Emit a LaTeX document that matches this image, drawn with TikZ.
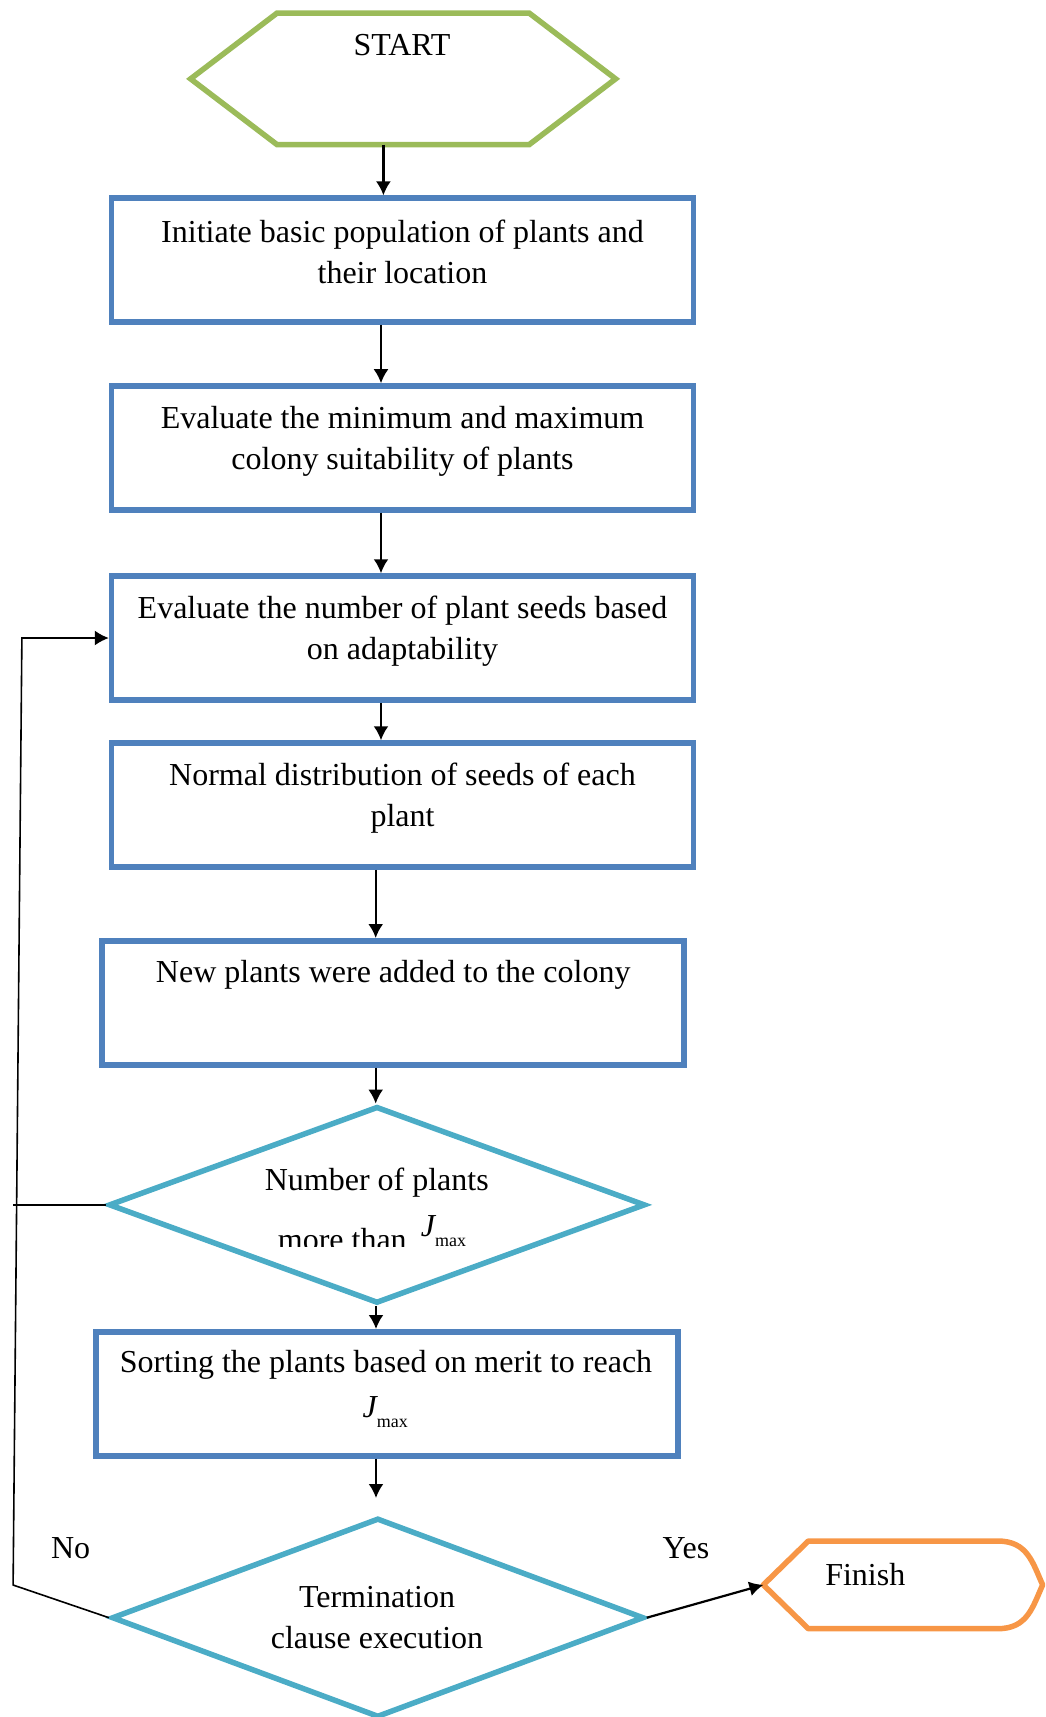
\documentclass[tikz,border=0pt]{standalone}
\usepackage{fontspec}
\setmainfont{Liberation Serif}
\usetikzlibrary{calc,shapes.geometric,arrows.meta}
\definecolor{cgreen}{HTML}{9BBB59}
\definecolor{cblue}{HTML}{4F81BD}
\definecolor{cteal}{HTML}{4BACC6}
\definecolor{corange}{HTML}{F79646}
\newcommand{\jmaxtxt}{{\itshape J}\raisebox{-10pt}{\fontsize{18}{18}\selectfont max}}
\begin{document}
\begin{tikzpicture}[x=1pt,y=-1pt,
  box/.style={draw=cblue, line width=5.5pt, minimum width=582pt, minimum height=124pt, inner sep=0pt},
  dia/.style={diamond, draw=cteal, line width=5.5pt, inner sep=0pt},
  frame/.style={inner sep=0pt, outer sep=0pt},
  txt/.style={font=\fontsize{32}{41.6}\selectfont, align=center, inner sep=0pt},
  tip/.style={-{Latex[length=14pt,width=15pt]}},
  arr/.style={tip, line width=2.2pt},
  lnk/.style={line width=1.6pt}]
\useasboundingbox (0,0) rectangle (1046,1717);

% START hexagon
\node[frame, minimum width=425pt, minimum height=131.5pt] (start) at (403.1,78.85) {};
\draw[cgreen, line width=5.5pt] (start.west) -- ($(start.north west)+(86.4,0)$) -- ($(start.north east)+(-86.4,0)$) -- (start.east) -- ($(start.south east)+(-86.4,0)$) -- ($(start.south west)+(86.4,0)$) -- cycle;
\node[txt] (tstart) at (402,45) {START};

% boxes
\node[box] (b1) at (402.5,260.15) {};
\node[txt] (t1) at (402.5,252) {Initiate basic population of plants and\\their location};
\node[box] (b2) at (402.5,447.95) {};
\node[txt] (t2) at (402.5,441.5) {Evaluate the minimum and maximum\\colony suitability of plants};
\node[box] (b3) at (402.5,638) {};
\node[txt] (t3) at (402.5,631) {Evaluate the number of plant seeds based\\on adaptability};
\node[box] (b4) at (402.5,805) {};
\node[txt] (t4) at (402.5,798) {Normal distribution of seeds of each\\plant};
\node[box] (b5) at (393.2,1002.75) {};
\node[txt] (t5) at (393.2,975) {New plants were added to the colony};

% decision 1
\node[dia, minimum width=536.7pt, minimum height=197pt] (d1) at (377,1204.85) {};
\node[txt] (t6) at (376.8,1183) {Number of plants};
\begin{scope}
  \clip (200,1200) rectangle (420,1246.5);
  \node[txt, anchor=base] (t7) at (342.3,1250) {more than};
\end{scope}
\node[txt, anchor=base west] (t8) at (420.6,1236) {\jmaxtxt};

% box 6
\node[box] (b6) at (387.2,1393.75) {};
\node[txt] (t9) at (386,1365) {Sorting the plants based on merit to reach};
\node[txt, anchor=base west] (t10) at (362.5,1417) {\jmaxtxt};

% decision 2
\node[dia, minimum width=532.3pt, minimum height=199.4pt] (d2) at (377.85,1617.7) {};
\node[txt] (t11) at (377,1617.7) {Termination\\clause execution};

% Finish
\node[frame, minimum width=279.3pt, minimum height=87.7pt] (fin) at (903,1584.85) {};
\draw[corange, line width=5.5pt, line join=round] (fin.west) -- ($(fin.north west)+(45,0)$) -- ($(fin.north east)+(-45,0)$)
  .. controls ($(fin.north east)+(-15,0)$) and ($(fin.east)+(-10,-22)$) .. (fin.east)
  .. controls ($(fin.east)+(-10,22)$) and ($(fin.south east)+(-15,0)$) .. ($(fin.south east)+(-45,0)$)
  -- ($(fin.south west)+(45,0)$) -- cycle;
\node[txt] (tfin) at (865.3,1575) {Finish};

% labels
\node[txt] (lno) at (70.6,1548.5) {No};
\node[txt] (lyes) at (686,1548.5) {Yes};

% connectors
\coordinate (xa) at (383.4,0);
\coordinate (xb) at (381,0);
\coordinate (xc) at (375.7,0);
\coordinate (xd) at (376,0);
\coordinate (e6) at (376,1498);
\draw[arr] (start.south -| xa) -- (b1.north -| xa);
\draw[arr] (b1.south -| xb) -- (b2.north -| xb);
\draw[arr] (b2.south -| xb) -- (b3.north -| xb);
\draw[arr] (b3.south -| xb) -- (b4.north -| xb);
\draw[arr] (b4.south -| xc) -- (b5.north -| xc);
\draw[arr] (b5.south -| xc) -- (d1.north -| xc);
\draw[arr] (d1.south -| xd) -- (b6.north -| xd);
\draw[arr] (b6.south -| xd) -- (e6);
\draw[arr] (d2.east) -- (fin.west);

\coordinate (lb) at (13.1,1585);
\coordinate (lt) at (21.9,638);
\coordinate (l1) at (13,1204.85);
\draw[lnk, tip] (d2.west) -- (lb) -- (lt) -- (b3.west);
\draw[lnk] (d1.west) -- (l1);
\end{tikzpicture}
\end{document}
